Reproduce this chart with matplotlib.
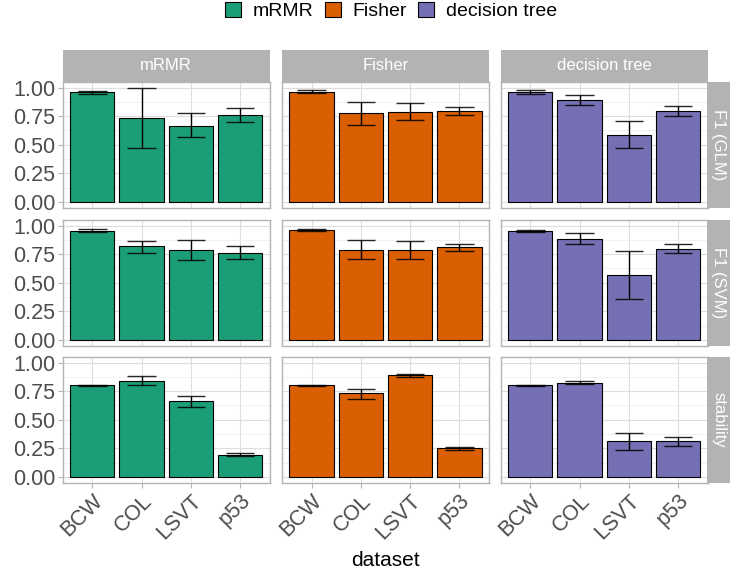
#!/usr/bin/env python3
import numpy as np
import matplotlib
matplotlib.use("Agg")
import matplotlib.pyplot as plt
from matplotlib.patches import Patch

plt.rcParams['font.family'] = ['Liberation Sans', 'DejaVu Sans']

# data
methods = ["mRMR", "Fisher", "decision tree"]
metrics = ["F1 (GLM)", "F1 (SVM)", "stability"]
datasets = ["BCW", "COL", "LSVT", "p53"]
colors = ["#1B9E77", "#D95F02", "#7570B3"]

# rows = methods (mRMR, Fisher, decision tree), cols = datasets
glm_mean = [[0.960, 0.731, 0.668, 0.761],
            [0.962, 0.777, 0.791, 0.797],
            [0.965, 0.893, 0.588, 0.797]]
glm_lo = [[0.943, 0.471, 0.564, 0.700],
          [0.954, 0.672, 0.719, 0.762],
          [0.945, 0.852, 0.470, 0.754]]
glm_hi = [[0.974, 1.000, 0.775, 0.821],
          [0.977, 0.878, 0.864, 0.832],
          [0.977, 0.933, 0.704, 0.841]]

svm_mean = [[0.956, 0.820, 0.785, 0.762],
            [0.959, 0.791, 0.785, 0.811],
            [0.951, 0.887, 0.567, 0.799]]
svm_lo = [[0.942, 0.762, 0.698, 0.706],
          [0.951, 0.706, 0.712, 0.779],
          [0.942, 0.843, 0.355, 0.759]]
svm_hi = [[0.974, 0.869, 0.875, 0.820],
          [0.974, 0.875, 0.863, 0.843],
          [0.965, 0.936, 0.782, 0.840]]

stab_mean = [[0.805, 0.843, 0.662, 0.192],
             [0.805, 0.732, 0.889, 0.251],
             [0.803, 0.825, 0.312, 0.312]]
stab_lo = [[0.800, 0.805, 0.612, 0.181],
           [0.800, 0.685, 0.875, 0.239],
           [0.799, 0.813, 0.236, 0.271]]
stab_hi = [[0.808, 0.880, 0.708, 0.207],
           [0.808, 0.773, 0.904, 0.265],
           [0.806, 0.837, 0.382, 0.350]]

means = [glm_mean, svm_mean, stab_mean]
los = [glm_lo, svm_lo, stab_lo]
his = [glm_hi, svm_hi, stab_hi]

W, H = 733, 575
fig = plt.figure(figsize=(W / 100, H / 100), dpi=100)

col_left = [62.7, 282.0, 500.7]
pw = 207.0
row_top = [82.0, 220.0, 357.0]
ph = 125.5
grey70 = "#B3B3B3"
txtc = "#4D4D4D"

def box(x0, y0, w, h):
    return [x0 / W, 1 - (y0 + h) / H, w / W, h / H]

x = np.arange(1, len(datasets) + 1)
for r in range(3):
    for c in range(3):
        ax = fig.add_axes(box(col_left[c], row_top[r], pw, ph))
        ax.set_xlim(0.4, 4.6)
        ax.set_ylim(-0.05, 1.05)
        ax.set_axisbelow(True)
        ax.set_yticks([0, 0.25, 0.5, 0.75, 1.0])
        ax.set_yticks([0.125, 0.375, 0.625, 0.875], minor=True)
        ax.set_xticks(x)
        ax.grid(True, which='major', color="#DEDEDE", lw=0.8)
        ax.grid(True, which='minor', axis='y', color="#EBEBEB", lw=0.5)
        for s in ax.spines.values():
            s.set_color(grey70)
            s.set_linewidth(1.0)
        ax.tick_params(which='minor', length=0)
        ax.tick_params(which='major', color=grey70, length=3.5, width=0.8,
                       labelcolor=txtc, labelsize=15.5, pad=2)
        m = np.array(means[r][c])
        ax.bar(x, m, width=0.9, color=colors[c], edgecolor="black", linewidth=0.8)
        lo = np.array(los[r][c])
        hi = np.array(his[r][c])
        ax.vlines(x, lo, hi, color="black", lw=1.0)
        ax.hlines(lo, x - 0.29, x + 0.29, color="black", lw=1.0, alpha=0.85)
        ax.hlines(hi, x - 0.29, x + 0.29, color="black", lw=1.0, alpha=0.85)
        if c == 0:
            ax.set_yticklabels(["0.00", "0.25", "0.50", "0.75", "1.00"])
        else:
            ax.tick_params(axis='y', which='major', length=0, labelleft=False)
        if r == 2:
            ax.set_xticklabels(datasets, rotation=45, ha='right',
                               rotation_mode='anchor')
        else:
            ax.tick_params(axis='x', which='major', length=0, labelbottom=False)

# top strips
for c in range(3):
    sax = fig.add_axes(box(col_left[c], 50.0, pw, 31.5))
    sax.set_facecolor(grey70)
    sax.set_xticks([]); sax.set_yticks([])
    for s in sax.spines.values():
        s.set_visible(False)
    sax.text(0.5, 0.5, methods[c], color="white", fontsize=12,
             ha='center', va='center', transform=sax.transAxes)

# right strips
for r in range(3):
    sax = fig.add_axes(box(707.3, row_top[r], 23.0, ph))
    sax.set_facecolor(grey70)
    sax.set_xticks([]); sax.set_yticks([])
    for s in sax.spines.values():
        s.set_visible(False)
    sax.text(0.5, 0.5, metrics[r], color="white", fontsize=12, rotation=-90,
             ha='center', va='center', transform=sax.transAxes)

fig.text(385 / W, 1 - 560 / H, "dataset", fontsize=15, ha='center', va='center')

handles = [Patch(facecolor=colors[i], edgecolor="black", linewidth=0.8, label=methods[i])
           for i in range(3)]
fig.legend(handles=handles, loc='center', bbox_to_anchor=(391 / W, 1 - 11 / H),
           ncol=3, frameon=False, fontsize=14, handlelength=0.82, handleheight=0.82,
           handletextpad=0.62, columnspacing=0.57)

fig.savefig("out.png", dpi=100)
